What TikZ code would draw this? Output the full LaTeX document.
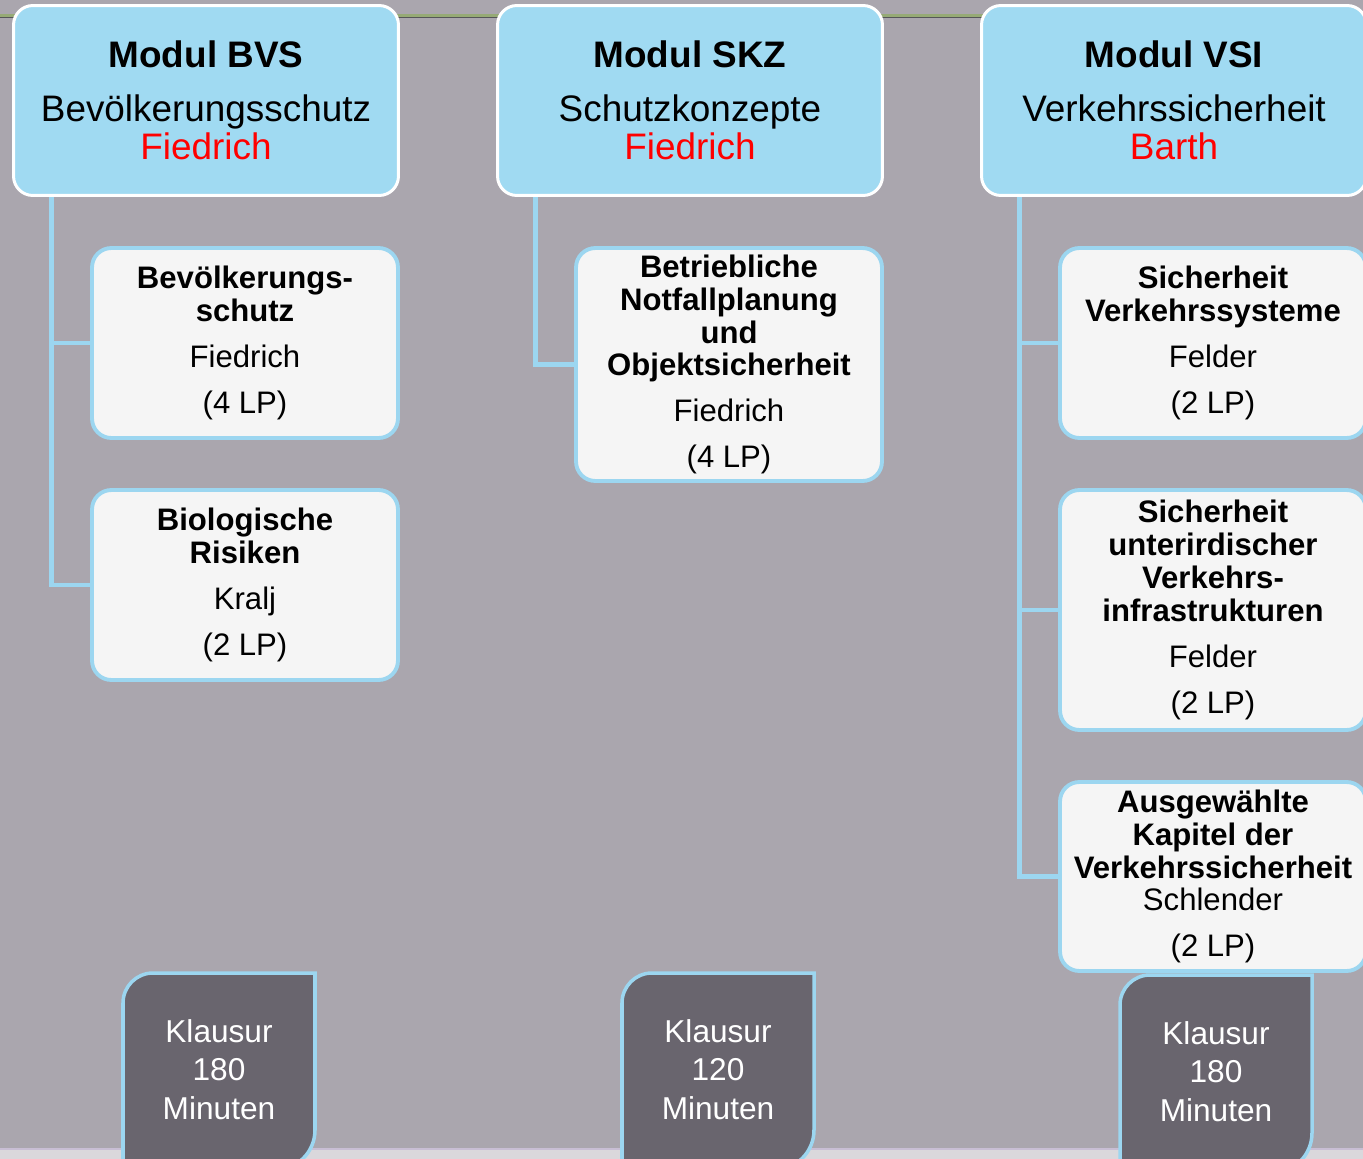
\documentclass[tikz,border=0pt]{standalone}
\usepackage{fontspec}
\setmainfont{Liberation Sans}
\usepackage{tikz}
\usetikzlibrary{calc}

\definecolor{bggray}{RGB}{170,166,174}
\definecolor{stripgray}{RGB}{218,216,220}
\definecolor{stripline}{RGB}{200,190,212}
\definecolor{topgreen}{RGB}{150,170,118}
\definecolor{topdark}{RGB}{85,85,88}
\definecolor{headblue}{RGB}{160,218,242}
\definecolor{lineblue}{RGB}{156,214,240}
\definecolor{boxwhite}{RGB}{245,245,245}
\definecolor{examgray}{RGB}{105,101,110}
\definecolor{namered}{RGB}{255,0,0}

\begin{document}
\begin{tikzpicture}[x=0.02cm,y=-0.02cm]
  \tikzstyle{header}=[rectangle,rounded corners=11pt,draw=white,line width=1.7pt,fill=headblue,minimum width=7.7cm,minimum height=3.8cm,inner sep=0pt,align=center,font=\fontsize{21}{22.1}\selectfont]
  \tikzstyle{course}=[rectangle,rounded corners=11pt,draw=lineblue,line width=2.2pt,fill=boxwhite,minimum width=6.12cm,inner sep=0pt,align=center,font=\fontsize{17.7}{18.7}\selectfont]
  \tikzstyle{exam}=[inner sep=0pt,align=center,text=white,font=\fontsize{18}{21.8}\selectfont]
  \tikzstyle{examframe}=[draw=lineblue,line width=2pt,fill=examgray]
  \tikzstyle{conn}=[draw=lineblue,line width=2.3pt]
  \useasboundingbox (0,0) rectangle (1363,1159);
  \clip (0,0) rectangle (1363,1159);
  % background
  \fill[bggray] (0,0) rectangle (1363,1159);
  \fill[stripgray] (0,1149) rectangle (1363,1159);
  \draw[stripline,line width=1pt] (0,1149) -- (1363,1149);
  \draw[topgreen,line width=1.2pt] (0,15.5) -- (1363,15.5);
  \draw[topdark,line width=0.8pt] (0,17.5) -- (1363,17.5);

  % exam tabs
  \draw[examframe] (123,1175) -- (123,1003) arc[start angle=180,end angle=90,radius=0.6cm] -- (315,973) -- (315,1130) arc[start angle=0,end angle=-90,radius=0.8cm] -- (123,1170) -- cycle;
  \draw[examframe] (622,1175) -- (622,1003) arc[start angle=180,end angle=90,radius=0.6cm] -- (814,973) -- (814,1130) arc[start angle=0,end angle=-90,radius=0.8cm] -- (622,1170) -- cycle;
  \draw[examframe] (1120,1175) -- (1120,1005) arc[start angle=180,end angle=90,radius=0.6cm] -- (1312,975) -- (1312,1133) arc[start angle=0,end angle=-90,radius=0.8cm] -- (1120,1173) -- cycle;
  \node[exam] (bvsexam) at (219,1069.5) {Klausur\\180\\Minuten};
  \node[exam] (skzexam) at (718,1069.5) {Klausur\\120\\Minuten};
  \node[exam] (vsiexam) at (1216,1071.5) {Klausur\\180\\Minuten};

  % modules
  \node[header] (bvs) at (206,100.5) {\textbf{Modul BVS}\\[8.5pt]Bevölkerungsschutz\\\textcolor{namered}{Fiedrich}};
  \node[header] (skz) at (690,100.5) {\textbf{Modul SKZ}\\[8.5pt]Schutzkonzepte\\\textcolor{namered}{Fiedrich}};
  \node[header] (vsi) at (1174,100.5) {\textbf{Modul VSI}\\[8.5pt]Verkehrssicherheit\\\textcolor{namered}{Barth}};

  % courses
  \node[course,minimum height=3.8cm] (bvs1) at (245,343) {\textbf{Bevölkerungs-}\\\textbf{schutz}\\[7.4pt]Fiedrich\\[7.4pt](4 LP)};
  \node[course,minimum height=3.8cm] (bvs2) at (245,585) {\textbf{Biologische}\\\textbf{Risiken}\\[7.4pt]Kralj\\[7.4pt](2 LP)};
  \node[course,minimum height=4.66cm] (skz1) at (729,364.5) {\textbf{Betriebliche}\\\textbf{Notfallplanung}\\\textbf{und}\\\textbf{Objektsicherheit}\\[7.4pt]Fiedrich\\[7.4pt](4 LP)};
  \node[course,minimum height=3.8cm] (vsi1) at (1213,343) {\textbf{Sicherheit}\\\textbf{Verkehrssysteme}\\[7.4pt]Felder\\[7.4pt](2 LP)};
  \node[course,minimum height=4.8cm] (vsi2) at (1213,610) {\textbf{Sicherheit}\\\textbf{unterirdischer}\\\textbf{Verkehrs-}\\\textbf{infrastrukturen}\\[7.4pt]Felder\\[7.4pt](2 LP)};
  \node[course,minimum height=3.78cm] (vsi3) at (1213,876.5) {\textbf{Ausgewählte}\\\textbf{Kapitel der}\\\textbf{Verkehrssicherheit}\\Schlender\\[7.4pt](2 LP)};

  % connectors
  \coordinate (bvsroot) at (51.5,197);
  \coordinate (skzroot) at (535.5,197);
  \coordinate (vsiroot) at (1019.5,197);
  \draw[conn] (bvsroot) |- (bvs2.west);
  \draw[conn] (bvsroot |- bvs1.west) -- (bvs1.west);
  \draw[conn] (skzroot) |- (skz1.west);
  \draw[conn] (vsiroot) |- (vsi3.west);
  \draw[conn] (vsiroot |- vsi1.west) -- (vsi1.west);
  \draw[conn] (vsiroot |- vsi2.west) -- (vsi2.west);
\end{tikzpicture}
\end{document}
